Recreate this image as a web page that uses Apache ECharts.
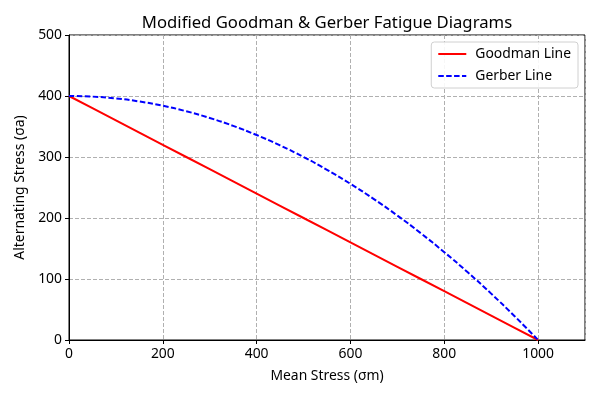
<!DOCTYPE html>
<html>
<head>
<meta charset="utf-8">
<script src="https://cdn.jsdelivr.net/npm/echarts@6/dist/echarts.min.js"></script>
<style>
  html, body { margin: 0; padding: 0; background: #fff; }
  #chart { width: 600px; height: 400px; }
</style>
</head>
<body>
<div id="chart"></div>
<script>
// mean stress values (x)
const meanStress = [0, 50, 100, 150, 200, 250, 300, 350, 400, 450, 500,
  550, 600, 650, 700, 750, 800, 850, 900, 950, 1000]
// goodman line
const goodmanStress = [400, 380, 360, 340, 320, 300, 280, 260, 240, 220, 200,
  180, 160, 140, 120, 100, 80, 60, 40, 20, 0]
// gerber curve
const gerberStress = [400, 399, 396, 391, 384, 375, 364, 351, 336, 319, 300,
  279, 256, 231, 204, 175, 144, 111, 76, 39, 0]

const font = 'Noto Sans, DejaVu Sans, sans-serif'

const pairs = (xs, ys) => xs.map((x, i) => [x, ys[i]])

const option = {
    animation: false,
    textStyle: { fontFamily: font },
    title: {
        text: 'Modified Goodman & Gerber Fatigue Diagrams',
        left: 322,
        top: 10,
        textAlign: 'center',
        textStyle: { fontSize: 16.7, fontWeight: 'normal', color: '#000', fontFamily: font }
    },
    legend: {
        orient: 'vertical',
        right: 22,
        top: 42,
        padding: [5, 7, 5, 6],
        itemGap: 8,
        itemWidth: 28,
        itemHeight: 14,
        borderColor: '#d0d0d0',
        borderWidth: 1,
        borderRadius: 3,
        backgroundColor: 'rgba(255,255,255,0.9)',
        itemStyle: { opacity: 0 },
        textStyle: { fontSize: 13.9, color: '#000', fontFamily: font, padding: [0, 0, 0, 4] },
        data: ['Goodman Line', 'Gerber Line']
    },
    grid: {
        left: 69,
        right: 15,
        top: 35,
        bottom: 60,
        show: true,
        borderColor: '#000',
        borderWidth: 1
    },
    xAxis: {
        type: 'value',
        min: 0,
        max: 1100,
        interval: 200,
        name: 'Mean Stress (σm)',
        nameLocation: 'middle',
        nameGap: 29,
        nameTextStyle: { fontSize: 13.9, color: '#000' },
        axisLine: { show: true, lineStyle: { color: '#000' } },
        axisTick: { show: true, length: 4, lineStyle: { color: '#000' } },
        axisLabel: { color: '#000', fontSize: 13.9, margin: 7, showMaxLabel: false, formatter: v => String(v) },
        splitLine: { show: true, lineStyle: { color: '#b0b0b0', type: [4, 2] } }
    },
    yAxis: {
        type: 'value',
        min: 0,
        max: 500,
        interval: 100,
        name: 'Alternating Stress (σa)',
        nameLocation: 'middle',
        nameGap: 41,
        nameTextStyle: { fontSize: 13.9, color: '#000' },
        axisLine: { show: true, lineStyle: { color: '#000' } },
        axisTick: { show: true, length: 4, lineStyle: { color: '#000' } },
        axisLabel: { color: '#000', fontSize: 13.9, margin: 7 },
        splitLine: { show: true, lineStyle: { color: '#b0b0b0', type: [4, 2] } }
    },
    series: [
        {
            name: 'Goodman Line',
            type: 'line',
            symbol: 'none',
            color: '#ff0000',
            lineStyle: { width: 2, color: '#ff0000' },
            data: pairs(meanStress, goodmanStress)
        },
        {
            name: 'Gerber Line',
            type: 'line',
            symbol: 'none',
            smooth: true,
            color: '#0000ff',
            lineStyle: { width: 2, color: '#0000ff', type: [5.5, 2.4] },
            data: pairs(meanStress, gerberStress)
        }
    ]
}

const chart = echarts.init(document.getElementById('chart'))
chart.setOption(option)
</script>
</body>
</html>
